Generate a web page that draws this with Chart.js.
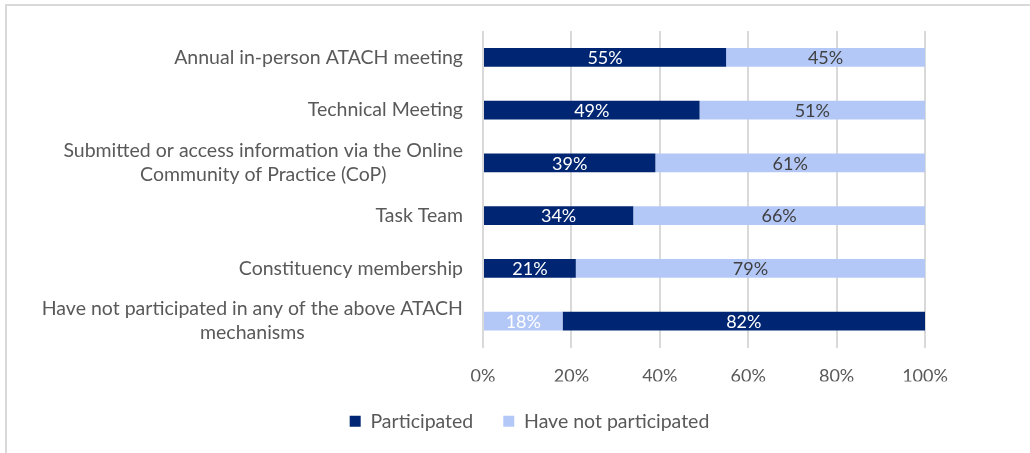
<!DOCTYPE html>
<html>
<head>
<meta charset="utf-8">
<script src="https://cdn.jsdelivr.net/npm/chart.js@4.4.0/dist/chart.umd.min.js"></script>
<style>
  html, body { margin: 0; padding: 0; background: #ffffff; }
  #wrap { position: absolute; left: 0; top: 0; width: 1030px; height: 453px; }
  #frame { position: absolute; left: 5px; top: 4px; right: 0; bottom: 0;
           border-top: 2px solid #d9d9d9; border-left: 2px solid #d9d9d9; }
</style>
</head>
<body>
<div id="wrap">
  <div id="frame"></div>
  <canvas id="chart" width="1030" height="453"></canvas>
</div>
<script>
const categories = [
  ["Annual in-person ATACH meeting"],
  ["Technical Meeting"],
  ["Submitted or access information via the Online", "Community of Practice (CoP)"],
  ["Task Team"],
  ["Constituency membership"],
  ["Have not participated in any of the above ATACH", "mechanisms"]
];
const participated = [55, 49, 39, 34, 21, 18];
const notParticipated = [45, 51, 61, 66, 79, 82];
const xTicks = [0, 20, 40, 60, 80, 100];

// the last row is drawn with its colours swapped, as in the source picture
const swappedRow = 5;

const DARK = "#002673";
const LIGHT = "#b4c8f8";
const FONT = "Lato, 'Liberation Sans', sans-serif";

function barColor(base, other) {
  return function (ctx) {
    return ctx.dataIndex === swappedRow ? other : base;
  };
}

// draws "55%" etc in the middle of every bar segment
const barLabels = {
  id: "barLabels",
  afterDatasetsDraw(chart) {
    let ctx = chart.ctx;
    ctx.save();
    ctx.font = "18px " + FONT;
    ctx.textAlign = "center";
    ctx.textBaseline = "middle";
    chart.data.datasets.forEach(function (ds, di) {
      let meta = chart.getDatasetMeta(di);
      meta.data.forEach(function (bar, i) {
        let mid = (bar.x + bar.base) / 2;
        let onDark = (di === 0) !== (i === swappedRow);
        ctx.fillStyle = onDark || i === swappedRow ? "#ffffff" : "#404040";
        ctx.fillText(ds.data[i] + "%", mid, bar.y + 1);
      });
    });
    ctx.restore();
  }
};

// category labels: right edge fixed, lines centred on each other
const catLabels = {
  id: "catLabels",
  afterDraw(chart) {
    let ctx = chart.ctx;
    let y = chart.scales.y;
    ctx.save();
    ctx.font = "19.5px " + FONT;
    ctx.fillStyle = "#595959";
    ctx.textAlign = "center";
    ctx.textBaseline = "middle";
    let right = chart.chartArea.left - 20;
    let lineH = 24;
    categories.forEach(function (lines, i) {
      let w = Math.max.apply(null, lines.map((l) => ctx.measureText(l).width));
      let cx = right - w / 2;
      let cy = y.getPixelForTick(i);
      let top = cy - ((lines.length - 1) * lineH) / 2;
      lines.forEach(function (l, k) {
        ctx.fillText(l, cx, top + k * lineH);
      });
    });
    ctx.restore();
  }
};

new Chart(document.getElementById("chart"), {
  type: "bar",
  data: {
    labels: categories,
    datasets: [
      {
        label: "Participated",
        data: participated,
        backgroundColor: barColor(DARK, LIGHT),
        barPercentage: 0.6,
        categoryPercentage: 0.6
      },
      {
        label: "Have not participated",
        data: notParticipated,
        backgroundColor: barColor(LIGHT, DARK),
        barPercentage: 0.6,
        categoryPercentage: 0.6
      }
    ]
  },
  options: {
    indexAxis: "y",
    responsive: false,
    animation: false,
    layout: { padding: { left: 134, right: 105, top: 31, bottom: 12 } },
    plugins: {
      legend: {
        position: "bottom",
        labels: {
          color: "#595959",
          font: { family: FONT, size: 19.5 },
          boxWidth: 11,
          boxHeight: 11,
          padding: 30
        }
      },
      tooltip: { enabled: false }
    },
    scales: {
      x: {
        stacked: true,
        min: 0,
        max: 100,
        afterBuildTicks(scale) {
          scale.ticks = xTicks.map((v) => ({ value: v }));
        },
        ticks: {
          color: "#595959",
          font: { family: FONT, size: 18 },
          padding: 18,
          callback: (v) => v + "%"
        },
        grid: { color: "#d9d9d9", lineWidth: 2, drawTicks: false },
        border: { display: false },
        afterFit(scale) { scale.height = 34; }
      },
      y: {
        stacked: true,
        ticks: { color: "rgba(0,0,0,0)", font: { family: FONT, size: 17 } },
        grid: { display: false, drawTicks: false },
        border: { display: false },
        afterFit(scale) { scale.width = 349; }
      }
    }
  },
  plugins: [barLabels, catLabels]
});
</script>
</body>
</html>
